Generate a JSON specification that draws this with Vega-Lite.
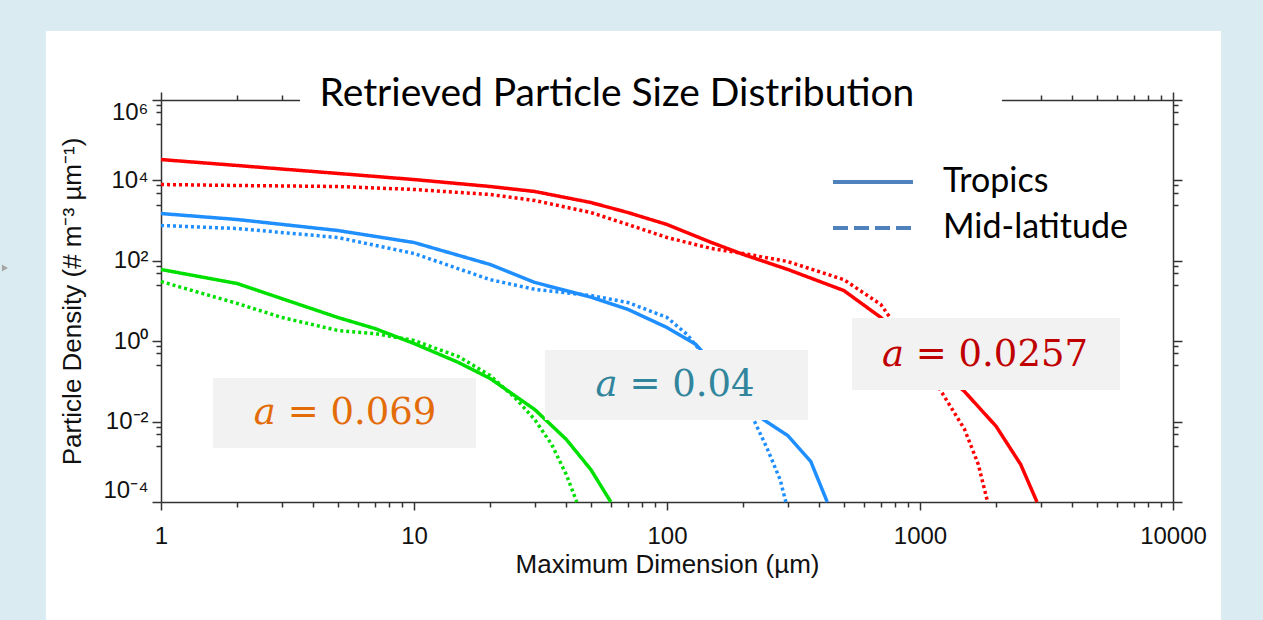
{
  "$schema": "https://vega.github.io/schema/vega-lite/v6.json",
  "width": 1012,
  "height": 402,
  "autosize": {"type": "none"},
  "padding": {"left": 161, "top": 100, "right": 90, "bottom": 118},
  "background": "white",
  "config": {
    "view": {"stroke": null},
    "axis": {
      "domainColor": "#333333", "domainWidth": 1.5,
      "tickColor": "#333333", "tickWidth": 1.5,
      "labelFont": "Liberation Sans", "labelFontSize": 24, "labelColor": "#111111",
      "titleFont": "Liberation Sans", "titleFontSize": 26, "titleFontWeight": "normal", "titleColor": "#111111",
      "grid": false, "labelOverlap": false, "labelBound": false
    }
  },
  "datasets": {
    "one": [{}],
    "psd": [
      {"group": "0.0257", "region": "Tropics", "D": 1, "N": 33000},
      {"group": "0.0257", "region": "Tropics", "D": 2, "N": 23500},
      {"group": "0.0257", "region": "Tropics", "D": 5, "N": 14900},
      {"group": "0.0257", "region": "Tropics", "D": 10, "N": 10500},
      {"group": "0.0257", "region": "Tropics", "D": 20, "N": 7050},
      {"group": "0.0257", "region": "Tropics", "D": 30, "N": 5300},
      {"group": "0.0257", "region": "Tropics", "D": 50, "N": 2820},
      {"group": "0.0257", "region": "Tropics", "D": 70, "N": 1590},
      {"group": "0.0257", "region": "Tropics", "D": 100, "N": 800},
      {"group": "0.0257", "region": "Tropics", "D": 150, "N": 285},
      {"group": "0.0257", "region": "Tropics", "D": 200, "N": 144},
      {"group": "0.0257", "region": "Tropics", "D": 300, "N": 61},
      {"group": "0.0257", "region": "Tropics", "D": 500, "N": 18.2},
      {"group": "0.0257", "region": "Tropics", "D": 700, "N": 3.9},
      {"group": "0.0257", "region": "Tropics", "D": 1000, "N": 0.52},
      {"group": "0.0257", "region": "Tropics", "D": 1500, "N": 0.056},
      {"group": "0.0257", "region": "Tropics", "D": 2000, "N": 0.0076},
      {"group": "0.0257", "region": "Tropics", "D": 2500, "N": 0.00086},
      {"group": "0.0257", "region": "Tropics", "D": 2900, "N": 0.0001},
      {"group": "0.0257", "region": "Mid-latitude", "D": 1, "N": 7900},
      {"group": "0.0257", "region": "Mid-latitude", "D": 2, "N": 7470},
      {"group": "0.0257", "region": "Mid-latitude", "D": 5, "N": 7050},
      {"group": "0.0257", "region": "Mid-latitude", "D": 10, "N": 5940},
      {"group": "0.0257", "region": "Mid-latitude", "D": 20, "N": 4460},
      {"group": "0.0257", "region": "Mid-latitude", "D": 30, "N": 3160},
      {"group": "0.0257", "region": "Mid-latitude", "D": 50, "N": 1590},
      {"group": "0.0257", "region": "Mid-latitude", "D": 70, "N": 800},
      {"group": "0.0257", "region": "Mid-latitude", "D": 100, "N": 380},
      {"group": "0.0257", "region": "Mid-latitude", "D": 150, "N": 202},
      {"group": "0.0257", "region": "Mid-latitude", "D": 200, "N": 152},
      {"group": "0.0257", "region": "Mid-latitude", "D": 300, "N": 96},
      {"group": "0.0257", "region": "Mid-latitude", "D": 500, "N": 34},
      {"group": "0.0257", "region": "Mid-latitude", "D": 700, "N": 8.2},
      {"group": "0.0257", "region": "Mid-latitude", "D": 1000, "N": 0.33},
      {"group": "0.0257", "region": "Mid-latitude", "D": 1200, "N": 0.063},
      {"group": "0.0257", "region": "Mid-latitude", "D": 1500, "N": 0.0064},
      {"group": "0.0257", "region": "Mid-latitude", "D": 1700, "N": 0.00086},
      {"group": "0.0257", "region": "Mid-latitude", "D": 1850, "N": 0.0001},
      {"group": "0.04", "region": "Tropics", "D": 1, "N": 1500},
      {"group": "0.04", "region": "Tropics", "D": 2, "N": 1065},
      {"group": "0.04", "region": "Tropics", "D": 5, "N": 567},
      {"group": "0.04", "region": "Tropics", "D": 10, "N": 285},
      {"group": "0.04", "region": "Tropics", "D": 20, "N": 81},
      {"group": "0.04", "region": "Tropics", "D": 30, "N": 29},
      {"group": "0.04", "region": "Tropics", "D": 50, "N": 12.5},
      {"group": "0.04", "region": "Tropics", "D": 70, "N": 6.2},
      {"group": "0.04", "region": "Tropics", "D": 100, "N": 2.19},
      {"group": "0.04", "region": "Tropics", "D": 130, "N": 0.83},
      {"group": "0.04", "region": "Tropics", "D": 160, "N": 0.198},
      {"group": "0.04", "region": "Tropics", "D": 200, "N": 0.04},
      {"group": "0.04", "region": "Tropics", "D": 240, "N": 0.0113},
      {"group": "0.04", "region": "Tropics", "D": 300, "N": 0.0045},
      {"group": "0.04", "region": "Tropics", "D": 370, "N": 0.00102},
      {"group": "0.04", "region": "Tropics", "D": 430, "N": 0.0001},
      {"group": "0.04", "region": "Mid-latitude", "D": 1, "N": 755},
      {"group": "0.04", "region": "Mid-latitude", "D": 2, "N": 635},
      {"group": "0.04", "region": "Mid-latitude", "D": 5, "N": 380},
      {"group": "0.04", "region": "Mid-latitude", "D": 10, "N": 152},
      {"group": "0.04", "region": "Mid-latitude", "D": 20, "N": 34},
      {"group": "0.04", "region": "Mid-latitude", "D": 30, "N": 19.5},
      {"group": "0.04", "region": "Mid-latitude", "D": 50, "N": 13.7},
      {"group": "0.04", "region": "Mid-latitude", "D": 70, "N": 9.2},
      {"group": "0.04", "region": "Mid-latitude", "D": 100, "N": 3.9},
      {"group": "0.04", "region": "Mid-latitude", "D": 120, "N": 1.47},
      {"group": "0.04", "region": "Mid-latitude", "D": 150, "N": 0.26},
      {"group": "0.04", "region": "Mid-latitude", "D": 200, "N": 0.035},
      {"group": "0.04", "region": "Mid-latitude", "D": 220, "N": 0.0113},
      {"group": "0.04", "region": "Mid-latitude", "D": 250, "N": 0.002},
      {"group": "0.04", "region": "Mid-latitude", "D": 280, "N": 0.00036},
      {"group": "0.04", "region": "Mid-latitude", "D": 295, "N": 0.0001},
      {"group": "0.069", "region": "Tropics", "D": 1, "N": 60.8},
      {"group": "0.069", "region": "Tropics", "D": 2, "N": 27.2},
      {"group": "0.069", "region": "Tropics", "D": 3, "N": 11.5},
      {"group": "0.069", "region": "Tropics", "D": 5, "N": 3.89},
      {"group": "0.069", "region": "Tropics", "D": 7, "N": 2.07},
      {"group": "0.069", "region": "Tropics", "D": 10, "N": 0.877},
      {"group": "0.069", "region": "Tropics", "D": 15, "N": 0.295},
      {"group": "0.069", "region": "Tropics", "D": 20, "N": 0.118},
      {"group": "0.069", "region": "Tropics", "D": 30, "N": 0.02},
      {"group": "0.069", "region": "Tropics", "D": 40, "N": 0.0036},
      {"group": "0.069", "region": "Tropics", "D": 50, "N": 0.00064},
      {"group": "0.069", "region": "Tropics", "D": 60, "N": 0.0001},
      {"group": "0.069", "region": "Mid-latitude", "D": 1, "N": 30.5},
      {"group": "0.069", "region": "Mid-latitude", "D": 2, "N": 8.7},
      {"group": "0.069", "region": "Mid-latitude", "D": 3, "N": 3.9},
      {"group": "0.069", "region": "Mid-latitude", "D": 5, "N": 1.85},
      {"group": "0.069", "region": "Mid-latitude", "D": 7, "N": 1.55},
      {"group": "0.069", "region": "Mid-latitude", "D": 10, "N": 1.04},
      {"group": "0.069", "region": "Mid-latitude", "D": 15, "N": 0.416},
      {"group": "0.069", "region": "Mid-latitude", "D": 20, "N": 0.14},
      {"group": "0.069", "region": "Mid-latitude", "D": 25, "N": 0.04},
      {"group": "0.069", "region": "Mid-latitude", "D": 30, "N": 0.0113},
      {"group": "0.069", "region": "Mid-latitude", "D": 35, "N": 0.0027},
      {"group": "0.069", "region": "Mid-latitude", "D": 40, "N": 0.00048},
      {"group": "0.069", "region": "Mid-latitude", "D": 44, "N": 0.0001}
    ]
  },
  "layer": [
    {
      "data": {"name": "one"},
      "mark": {"type": "rect", "fill": "#daecf2"},
      "encoding": {
        "x": {"datum": 0.001, "type": "quantitative", "scale": {"type": "log", "domain": [1, 10000], "nice": false}, "axis": null},
        "x2": {"datum": 0.351},
        "y": {"datum": 1000000000, "type": "quantitative", "scale": {"type": "log", "domain": [0.0001, 1000000], "nice": false}, "axis": null},
        "y2": {"datum": 0.00000001}
      }
    },
    {
      "data": {"name": "one"},
      "mark": {"type": "rect", "fill": "#daecf2"},
      "encoding": {
        "x": {"datum": 0.001, "type": "quantitative", "scale": {"type": "log", "domain": [1, 10000], "nice": false}, "axis": null},
        "x2": {"datum": 1000000},
        "y": {"datum": 1000000000, "type": "quantitative", "scale": {"type": "log", "domain": [0.0001, 1000000], "nice": false}, "axis": null},
        "y2": {"datum": 52000000}
      }
    },
    {
      "data": {"name": "one"},
      "mark": {"type": "rect", "fill": "#daecf2"},
      "encoding": {
        "x": {"datum": 15488, "type": "quantitative", "scale": {"type": "log", "domain": [1, 10000], "nice": false}, "axis": null},
        "x2": {"datum": 1000000},
        "y": {"datum": 1000000000, "type": "quantitative", "scale": {"type": "log", "domain": [0.0001, 1000000], "nice": false}, "axis": null},
        "y2": {"datum": 0.00000001}
      }
    },
    {
      "data": {"name": "one"},
      "mark": {"type": "point", "shape": "triangle-right", "size": 50, "filled": true, "color": "#a6a6a6", "opacity": 1},
      "encoding": {
        "x": {"datum": 0.2416, "type": "quantitative", "scale": {"type": "log", "domain": [1, 10000], "nice": false}, "axis": null},
        "y": {"datum": 66.2, "type": "quantitative", "scale": {"type": "log", "domain": [0.0001, 1000000], "nice": false}, "axis": null}
      }
    },
    {
      "data": {"name": "psd"},
      "mark": {"type": "line", "strokeWidth": 3.5},
      "encoding": {
        "x": {
          "field": "D", "type": "quantitative",
          "scale": {"type": "log", "domain": [1, 10000], "nice": false},
          "axis": {
            "orient": "bottom",
            "title": "Maximum Dimension (µm)",
            "values": [1,2,3,4,5,6,7,8,9,10,20,30,40,50,60,70,80,90,100,200,300,400,500,600,700,800,900,1000,2000,3000,4000,5000,6000,7000,8000,9000,10000],
            "labelExpr": "indexof([1,10,100,1000,10000], datum.value) >= 0 ? format(datum.value, 'd') : ''",
            "tickSize": {"condition": {"test": "indexof([1,10,100,1000,10000], datum.value) >= 0", "value": 8}, "value": 5},
            "labelFlush": false,
            "labelPadding": 14,
            "titlePadding": 3
          }
        },
        "y": {
          "field": "N", "type": "quantitative",
          "scale": {"type": "log", "domain": [0.0001, 1000000], "nice": false},
          "axis": {
            "orient": "left",
            "title": "Particle Density (# m⁻³ µm⁻¹)",
            "values": [0.0001,0.0025,0.005,0.0075,0.01,0.25,0.5,0.75,1,25,50,75,100,2500,5000,7500,10000,250000,500000,750000,1000000],
            "labelExpr": "datum.value == 1000000 ? '10⁶' : datum.value == 10000 ? '10⁴' : datum.value == 100 ? '10²' : datum.value == 1 ? '10⁰' : datum.value == 0.01 ? '10⁻²' : datum.value == 0.0001 ? '10⁻⁴' : ''",
            "tickSize": {"condition": {"test": "indexof([0.0001,0.01,1,100,10000,1000000], datum.value) >= 0", "value": 9}, "value": 5},
            "labelFlush": true,
            "labelPadding": 4,
            "titlePadding": 17
          }
        },
        "color": {"field": "group", "type": "nominal", "scale": {"domain": ["0.0257", "0.04", "0.069"], "range": ["#ff0000", "#1f8fff", "#00e000"]}, "legend": null},
        "strokeDash": {"field": "region", "type": "nominal", "scale": {"domain": ["Tropics", "Mid-latitude"], "range": [[1, 0], [3, 3]]}, "legend": null}
      }
    },
    {
      "data": {"name": "one"},
      "mark": {"type": "rect", "fill": "#f2f2f2"},
      "encoding": {
        "x": {"datum": 1.606, "type": "quantitative", "scale": {"type": "log", "domain": [1, 10000], "nice": false}, "axis": null},
        "x2": {"datum": 17.58},
        "y": {"datum": 0.1216, "type": "quantitative", "scale": {"type": "log", "domain": [0.0001, 1000000], "nice": false}, "axis": null},
        "y2": {"datum": 0.002203}
      }
    },
    {
      "data": {"name": "one"},
      "mark": {"type": "rect", "fill": "#f2f2f2"},
      "encoding": {
        "x": {"datum": 32.9, "type": "quantitative", "scale": {"type": "log", "domain": [1, 10000], "nice": false}, "axis": null},
        "x2": {"datum": 360.7},
        "y": {"datum": 0.604, "type": "quantitative", "scale": {"type": "log", "domain": [0.0001, 1000000], "nice": false}, "axis": null},
        "y2": {"datum": 0.01096}
      }
    },
    {
      "data": {"name": "one"},
      "mark": {"type": "rect", "fill": "#f2f2f2"},
      "encoding": {
        "x": {"datum": 538.6, "type": "quantitative", "scale": {"type": "log", "domain": [1, 10000], "nice": false}, "axis": null},
        "x2": {"datum": 6170},
        "y": {"datum": 3.78, "type": "quantitative", "scale": {"type": "log", "domain": [0.0001, 1000000], "nice": false}, "axis": null},
        "y2": {"datum": 0.0611}
      }
    },
    {
      "data": {"name": "one"},
      "mark": {"type": "text", "font": "DejaVu Serif", "fontSize": 37, "color": "#e36c09", "align": "center", "baseline": "middle"},
      "encoding": {
        "x": {"datum": 5.34, "type": "quantitative", "scale": {"type": "log", "domain": [1, 10000], "nice": false}, "axis": null},
        "y": {"datum": 0.01637, "type": "quantitative", "scale": {"type": "log", "domain": [0.0001, 1000000], "nice": false}, "axis": null},
        "text": {"value": "𝑎 = 0.069"}
      }
    },
    {
      "data": {"name": "one"},
      "mark": {"type": "text", "font": "DejaVu Serif", "fontSize": 37, "color": "#31859c", "align": "center", "baseline": "middle"},
      "encoding": {
        "x": {"datum": 107.6, "type": "quantitative", "scale": {"type": "log", "domain": [1, 10000], "nice": false}, "axis": null},
        "y": {"datum": 0.0813, "type": "quantitative", "scale": {"type": "log", "domain": [0.0001, 1000000], "nice": false}, "axis": null},
        "text": {"value": "𝑎 = 0.04"}
      }
    },
    {
      "data": {"name": "one"},
      "mark": {"type": "text", "font": "DejaVu Serif", "fontSize": 37, "color": "#c00000", "align": "center", "baseline": "middle"},
      "encoding": {
        "x": {"datum": 1807, "type": "quantitative", "scale": {"type": "log", "domain": [1, 10000], "nice": false}, "axis": null},
        "y": {"datum": 0.454, "type": "quantitative", "scale": {"type": "log", "domain": [0.0001, 1000000], "nice": false}, "axis": null},
        "text": {"value": "𝑎 = 0.0257"}
      }
    },
    {
      "data": {"name": "one"},
      "mark": {"type": "rule", "color": "#4f81bd", "strokeWidth": 4},
      "encoding": {
        "x": {"datum": 453, "type": "quantitative", "scale": {"type": "log", "domain": [1, 10000], "nice": false}, "axis": null},
        "x2": {"datum": 938},
        "y": {"datum": 9120, "type": "quantitative", "scale": {"type": "log", "domain": [0.0001, 1000000], "nice": false}, "axis": null}
      }
    },
    {
      "data": {"name": "one"},
      "mark": {"type": "rule", "color": "#4f81bd", "strokeWidth": 4, "strokeDash": [15, 6]},
      "encoding": {
        "x": {"datum": 453, "type": "quantitative", "scale": {"type": "log", "domain": [1, 10000], "nice": false}, "axis": null},
        "x2": {"datum": 938},
        "y": {"datum": 655, "type": "quantitative", "scale": {"type": "log", "domain": [0.0001, 1000000], "nice": false}, "axis": null}
      }
    },
    {
      "data": {"name": "one"},
      "mark": {"type": "text", "font": "Lato", "fontSize": 34, "color": "#000000", "align": "left", "baseline": "middle"},
      "encoding": {
        "x": {"datum": 1233, "type": "quantitative", "scale": {"type": "log", "domain": [1, 10000], "nice": false}, "axis": null},
        "y": {"datum": 9120, "type": "quantitative", "scale": {"type": "log", "domain": [0.0001, 1000000], "nice": false}, "axis": null},
        "text": {"value": "Tropics"}
      }
    },
    {
      "data": {"name": "one"},
      "mark": {"type": "text", "font": "Lato", "fontSize": 34, "color": "#000000", "align": "left", "baseline": "middle"},
      "encoding": {
        "x": {"datum": 1233, "type": "quantitative", "scale": {"type": "log", "domain": [1, 10000], "nice": false}, "axis": null},
        "y": {"datum": 655, "type": "quantitative", "scale": {"type": "log", "domain": [0.0001, 1000000], "nice": false}, "axis": null},
        "text": {"value": "Mid-latitude"}
      }
    },
    {
      "data": {"name": "one"},
      "mark": {"type": "rect", "fill": "white"},
      "encoding": {
        "x": {
          "datum": 3.543, "type": "quantitative",
          "scale": {"type": "log", "domain": [1, 10000], "nice": false},
          "axis": {
            "orient": "top", "title": null, "labels": false,
            "values": [1,2,3,4,5,6,7,8,9,10,20,30,40,50,60,70,80,90,100,200,300,400,500,600,700,800,900,1000,2000,3000,4000,5000,6000,7000,8000,9000,10000],
            "tickSize": {"condition": {"test": "indexof([1,10,100,1000,10000], datum.value) >= 0", "value": 8}, "value": 5}
          }
        },
        "x2": {"datum": 2109},
        "y": {
          "datum": 564000, "type": "quantitative",
          "scale": {"type": "log", "domain": [0.0001, 1000000], "nice": false},
          "axis": {
            "orient": "right", "title": null, "labels": false,
            "values": [0.0001,0.0025,0.005,0.0075,0.01,0.25,0.5,0.75,1,25,50,75,100,2500,5000,7500,10000,250000,500000,750000,1000000],
            "tickSize": {"condition": {"test": "indexof([0.0001,0.01,1,100,10000,1000000], datum.value) >= 0", "value": 9}, "value": 5}
          }
        },
        "y2": {"datum": 9900000}
      }
    },
    {
      "data": {"name": "one"},
      "mark": {"type": "text", "font": "Lato", "fontSize": 39, "color": "#000000", "align": "center", "baseline": "alphabetic"},
      "encoding": {
        "x": {"datum": 63.4, "type": "quantitative", "scale": {"type": "log", "domain": [1, 10000], "nice": false}, "axis": null},
        "y": {"datum": 710000, "type": "quantitative", "scale": {"type": "log", "domain": [0.0001, 1000000], "nice": false}, "axis": null},
        "text": {"value": "Retrieved Particle Size Distribution"}
      }
    }
  ],
  "resolve": {"axis": {"x": "independent", "y": "independent"}}
}
